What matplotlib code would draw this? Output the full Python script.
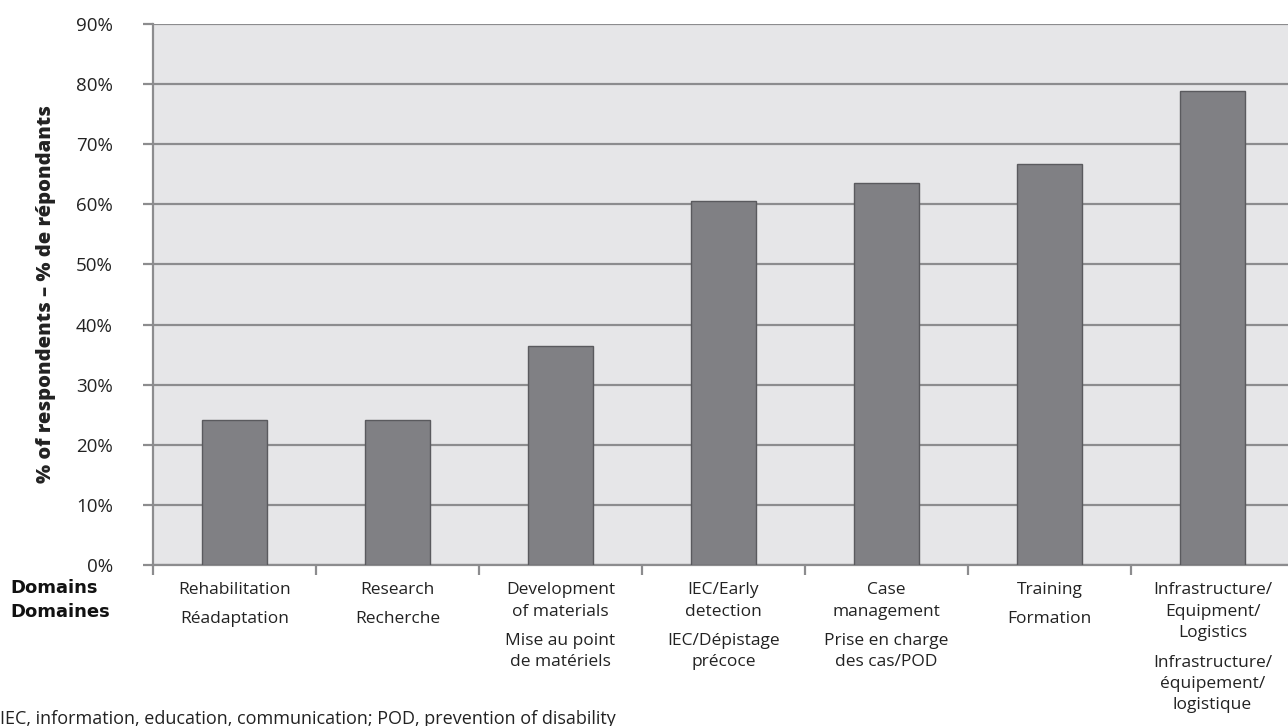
import matplotlib
matplotlib.use('Agg')
from matplotlib import pyplot as plt
from matplotlib import font_manager

# Share of respondents naming each domain (33 respondents)
domains_en = ['Rehabilitation', 'Research', 'Development\nof materials', 'IEC/Early\ndetection',
              'Case\nmanagement', 'Training', 'Infrastructure/\nEquipment/\nLogistics']
domains_fr = ['Réadaptation', 'Recherche', 'Mise au point\nde matériels', 'IEC/Dépistage\nprécoce',
              'Prise en charge\ndes cas/POD', 'Formation', 'Infrastructure/\néquipement/\nlogistique']
percent = [24.2, 24.2, 36.4, 60.6, 63.6, 66.7, 78.8]
yticks = [0, 10, 20, 30, 40, 50, 60, 70, 80, 90]

names = {f.name for f in font_manager.fontManager.ttflist}
family = 'Liberation Sans Narrow' if 'Liberation Sans Narrow' in names else 'Open Sans'
plt.rcParams['font.family'] = [family, 'DejaVu Sans']

grid_col = '#8c8c8e'
txt_col = '#222222'
fig = plt.figure(figsize=(12.88, 7.26), dpi=100)
ax = fig.add_axes([153 / 1288, 1 - 565 / 726, 1141 / 1288, 541 / 726])
ax.set_facecolor('#e6e6e8')

x = range(len(percent))
ax.bar(x, percent, width=0.4, color='#808084', edgecolor='#5a5a5e', linewidth=1.0, zorder=3)

ax.set_xlim(-0.5, len(percent) - 0.5)
ax.set_ylim(0, 90)
ax.set_yticks(yticks)
ax.set_yticklabels([f'{v}%' for v in yticks], fontsize=13.5, color=txt_col)
ax.grid(axis='y', color=grid_col, linewidth=1.6, zorder=1)
ax.tick_params(axis='y', length=7, width=1.6, color=grid_col, pad=22)

# category boundaries as ticks, labels drawn separately
ax.set_xticks([i - 0.5 for i in range(len(percent) + 1)])
ax.set_xticklabels([])
ax.tick_params(axis='x', length=7, width=1.6, color=grid_col)

for side in ['top', 'right']:
    ax.spines[side].set_visible(False)
for side in ['left', 'bottom']:
    ax.spines[side].set_color(grid_col)
    ax.spines[side].set_linewidth(1.6)

line_h = 15.8  # points per label line
for i, (en, fr) in enumerate(zip(domains_en, domains_fr)):
    ax.annotate(en, xy=(i, 0), xycoords=('data', 'axes fraction'), xytext=(0, -12.5),
                textcoords='offset points', ha='center', va='top', fontsize=12.5,
                linespacing=1.43, color=txt_col)
    n = en.count('\n') + 1
    ax.annotate(fr, xy=(i, 0), xycoords=('data', 'axes fraction'),
                xytext=(0, -12.5 - n * line_h - 5), textcoords='offset points',
                ha='center', va='top', fontsize=12.5, linespacing=1.43, color=txt_col)

ax.set_ylabel('% of respondents – % de répondants', fontsize=14.5, fontweight='heavy',
              labelpad=14, color=txt_col)

fig.text(10 / 1288, 1 - 579 / 726, 'Domains\nDomaines', fontsize=13, fontweight='bold',
         family=['DejaVu Sans'], ha='left', va='top', linespacing=1.4, color='#111111')
fig.text(0, 1 - 710 / 726, 'IEC, information, education, communication; POD, prevention of disability',
         fontsize=13, ha='left', va='top', color=txt_col)

fig.savefig('out.png', dpi=100)
